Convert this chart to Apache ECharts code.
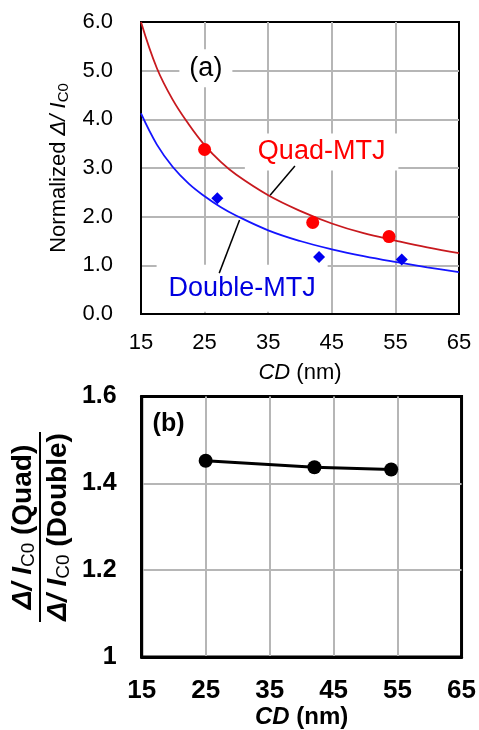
<!DOCTYPE html>
<html>
<head>
<meta charset="utf-8">
<script src="https://cdn.jsdelivr.net/npm/echarts@6/dist/echarts.min.js"></script>
<style>
html,body{margin:0;padding:0;background:#fff;}
#chart{width:479px;height:730px;}
</style>
</head>
<body>
<div id="chart"></div>
<script>
// ---- data ----
const fitCD      = [15, 17.5, 20, 22.5, 25, 27.5, 30, 35, 40, 45, 50, 55, 60, 65];
const quadFit    = [6.00, 5.05, 4.40, 3.90, 3.47, 3.13, 2.86, 2.44, 2.12, 1.86, 1.66, 1.51, 1.37, 1.25];
const doubleFit  = [4.12, 3.48, 3.02, 2.68, 2.42, 2.20, 2.02, 1.72, 1.50, 1.33, 1.19, 1.07, 0.96, 0.86];
const quadCD     = [25, 42, 54];
const quadVal    = [3.38, 1.88, 1.59];
const doubleCD   = [27, 43, 56];
const doubleVal  = [2.38, 1.17, 1.12];
const ratioCD    = [25, 42, 54];
const ratioVal   = [1.452, 1.437, 1.432];
const xTicks     = [15, 25, 35, 45, 55, 65];
const topYTicks  = [0, 1, 2, 3, 4, 5, 6];
const botYTicks  = [1, 1.2, 1.4, 1.6];
const labelTexts = ['(a)', 'Quad-MTJ', 'Double-MTJ', '(b)'];

const FONT = "'Liberation Sans', Arial, sans-serif";
const zip = (xs, ys) => xs.map((x, i) => [x, ys[i]]);

const chart = echarts.init(document.getElementById('chart'), null, {renderer: 'canvas'});

const GRID_COLOR = '#b6b6b6';
const split = () => ({show: true, showMinLine: false, showMaxLine: false, lineStyle: {color: GRID_COLOR, width: 2, type: 'solid', opacity: 1}});

const option = {
  animation: false,
  backgroundColor: '#fff',
  textStyle: {fontFamily: FONT},
  grid: [
    {left: 141, top: 22, width: 318, height: 292, show: true, borderColor: '#000', borderWidth: 2, backgroundColor: 'rgba(0,0,0,0)', containLabel: false},
    {left: 141.7, top: 396.5, width: 322, height: 260.5, show: true, borderColor: '#000', borderWidth: 3, backgroundColor: 'rgba(0,0,0,0)', containLabel: false}
  ],
  xAxis: [
    {
      type: 'value', gridIndex: 0, min: xTicks[0], max: xTicks[xTicks.length - 1], interval: xTicks[1] - xTicks[0],
      axisLine: {show: true, onZero: false, lineStyle: {color: '#000', width: 2}},
      axisTick: {show: false},
      axisLabel: {fontSize: 22, color: '#000', margin: 18, fontFamily: FONT},
      splitLine: split(),
      name: '{i|CD} (nm)', nameLocation: 'middle', nameGap: 48,
      nameTextStyle: {fontSize: 22, color: '#000', fontFamily: FONT, rich: {i: {fontStyle: 'italic', fontSize: 22, fontFamily: FONT}}}
    },
    {
      type: 'value', gridIndex: 1, min: xTicks[0], max: xTicks[xTicks.length - 1], interval: xTicks[1] - xTicks[0],
      axisLine: {show: true, onZero: false, lineStyle: {color: '#000', width: 3}},
      axisTick: {show: false},
      axisLabel: {fontSize: 26, fontWeight: 'bold', color: '#000', margin: 21, fontFamily: FONT},
      splitLine: split(),
      name: '{i|CD} (nm)', nameLocation: 'middle', nameGap: 38,
      nameTextStyle: {fontSize: 24, fontWeight: 'bold', color: '#000', fontFamily: FONT, rich: {i: {fontStyle: 'italic', fontWeight: 'bold', fontSize: 24, fontFamily: FONT}}}
    }
  ],
  yAxis: [
    {
      type: 'value', gridIndex: 0, min: topYTicks[0], max: topYTicks[topYTicks.length - 1], interval: topYTicks[1] - topYTicks[0],
      axisLine: {show: true, onZero: false, lineStyle: {color: '#000', width: 2}},
      axisTick: {show: false},
      axisLabel: {fontSize: 22, color: '#000', margin: 28, fontFamily: FONT, formatter: v => v.toFixed(1)},
      splitLine: split(),
      name: 'Normalized {i|Δ/ I}{s|C0}', nameLocation: 'middle', nameRotate: 90, nameGap: 65,
      nameTextStyle: {fontSize: 22, color: '#000', fontFamily: FONT,
        rich: {
          i: {fontStyle: 'italic', fontSize: 22, fontFamily: FONT},
          s: {fontSize: 15, fontFamily: FONT, padding: [10, 0, 0, 0]}
        }}
    },
    {
      type: 'value', gridIndex: 1, min: botYTicks[0], max: botYTicks[botYTicks.length - 1], interval: 0.2,
      axisLine: {show: true, onZero: false, lineStyle: {color: '#000', width: 3}},
      axisTick: {show: false},
      axisLabel: {fontSize: 25, fontWeight: 'bold', color: '#000', margin: 25, fontFamily: FONT},
      splitLine: split()
    }
  ],
  series: [
    {
      type: 'line', xAxisIndex: 0, yAxisIndex: 0, data: zip(fitCD, quadFit), smooth: 0.4,
      showSymbol: false, symbol: 'none', lineStyle: {color: '#c8191e', width: 1.8}, z: 2, silent: true
    },
    {
      type: 'line', xAxisIndex: 0, yAxisIndex: 0, data: zip(fitCD, doubleFit), smooth: 0.4,
      showSymbol: false, symbol: 'none', lineStyle: {color: '#1414ff', width: 1.8}, z: 2, silent: true
    },
    {
      type: 'scatter', xAxisIndex: 0, yAxisIndex: 0, symbolSize: 0, z: 3, silent: true,
      itemStyle: {opacity: 1},
      label: {show: true, position: 'inside', fontFamily: FONT, backgroundColor: '#fff', opacity: 1},
      data: [
        {value: [25.2, 5.05], label: {formatter: labelTexts[0], fontSize: 27, color: '#000', padding: [5, 10], lineHeight: 28}},
        {value: [43.4, 3.33], label: {formatter: labelTexts[1], fontSize: 27, color: '#ff0000', padding: [4, 13], lineHeight: 29}},
        {value: [30.9, 0.53], label: {formatter: labelTexts[2], fontSize: 27, color: '#0000e0', padding: [9, 12], lineHeight: 29}}
      ]
    },
    {
      type: 'line', xAxisIndex: 0, yAxisIndex: 0, data: [[39.2, 3.04], [35.3, 2.44]], showSymbol: false, symbol: 'none',
      lineStyle: {color: '#000', width: 1.5}, z: 4, silent: true
    },
    {
      type: 'line', xAxisIndex: 0, yAxisIndex: 0, data: [[27.3, 0.84], [30.5, 1.93]], showSymbol: false, symbol: 'none',
      lineStyle: {color: '#000', width: 1.5}, z: 4, silent: true
    },
    {
      type: 'scatter', xAxisIndex: 0, yAxisIndex: 0, data: zip(quadCD, quadVal), symbol: 'circle', symbolSize: 13,
      itemStyle: {color: '#ff0000', opacity: 1}, z: 5, silent: true
    },
    {
      type: 'scatter', xAxisIndex: 0, yAxisIndex: 0, data: zip(doubleCD, doubleVal), symbol: 'diamond', symbolSize: 12,
      itemStyle: {color: '#0000f0', opacity: 1}, z: 5, silent: true
    },
    {
      type: 'line', xAxisIndex: 1, yAxisIndex: 1, data: zip(ratioCD, ratioVal), symbol: 'circle', symbolSize: 14,
      showSymbol: true, lineStyle: {color: '#000', width: 3}, itemStyle: {color: '#000', opacity: 1}, z: 5, silent: true
    },
    {
      type: 'scatter', xAxisIndex: 1, yAxisIndex: 1, symbolSize: 0, z: 3, silent: true, itemStyle: {opacity: 1},
      data: [{value: [19.2, 1.537], label: {show: true, position: 'inside', formatter: labelTexts[3], fontSize: 25, fontWeight: 'bold', color: '#000', fontFamily: FONT, opacity: 1}}]
    }
  ],
  graphic: [
    {
      type: 'group', x: 40, y: 527, rotation: Math.PI / 2, silent: true,
      children: [
        {
          type: 'text', x: 0, y: -17,
          style: {
            text: '{i|Δ/ I}{s|C0}{n| (Quad)}', align: 'center', verticalAlign: 'middle', fill: '#000',
            fontSize: 28, fontWeight: 'bold', fontFamily: FONT,
            rich: {
              i: {fontStyle: 'italic', fontWeight: 'bold', fontSize: 28, fontFamily: FONT},
              s: {fontSize: 19, fontFamily: FONT, padding: [12, 0, 0, 0]},
              n: {fontWeight: 'bold', fontSize: 28, fontFamily: FONT}
            }
          }
        },
        {type: 'rect', shape: {x: -95, y: -1, width: 190, height: 2}, style: {fill: '#000'}},
        {
          type: 'text', x: 0, y: 18,
          style: {
            text: '{i|Δ/ I}{s|C0}{n| (Double)}', align: 'center', verticalAlign: 'middle', fill: '#000',
            fontSize: 28, fontWeight: 'bold', fontFamily: FONT,
            rich: {
              i: {fontStyle: 'italic', fontWeight: 'bold', fontSize: 28, fontFamily: FONT},
              s: {fontSize: 19, fontFamily: FONT, padding: [12, 0, 0, 0]},
              n: {fontWeight: 'bold', fontSize: 28, fontFamily: FONT}
            }
          }
        }
      ]
    }
  ]
};

chart.setOption(option);
</script>
</body>
</html>
